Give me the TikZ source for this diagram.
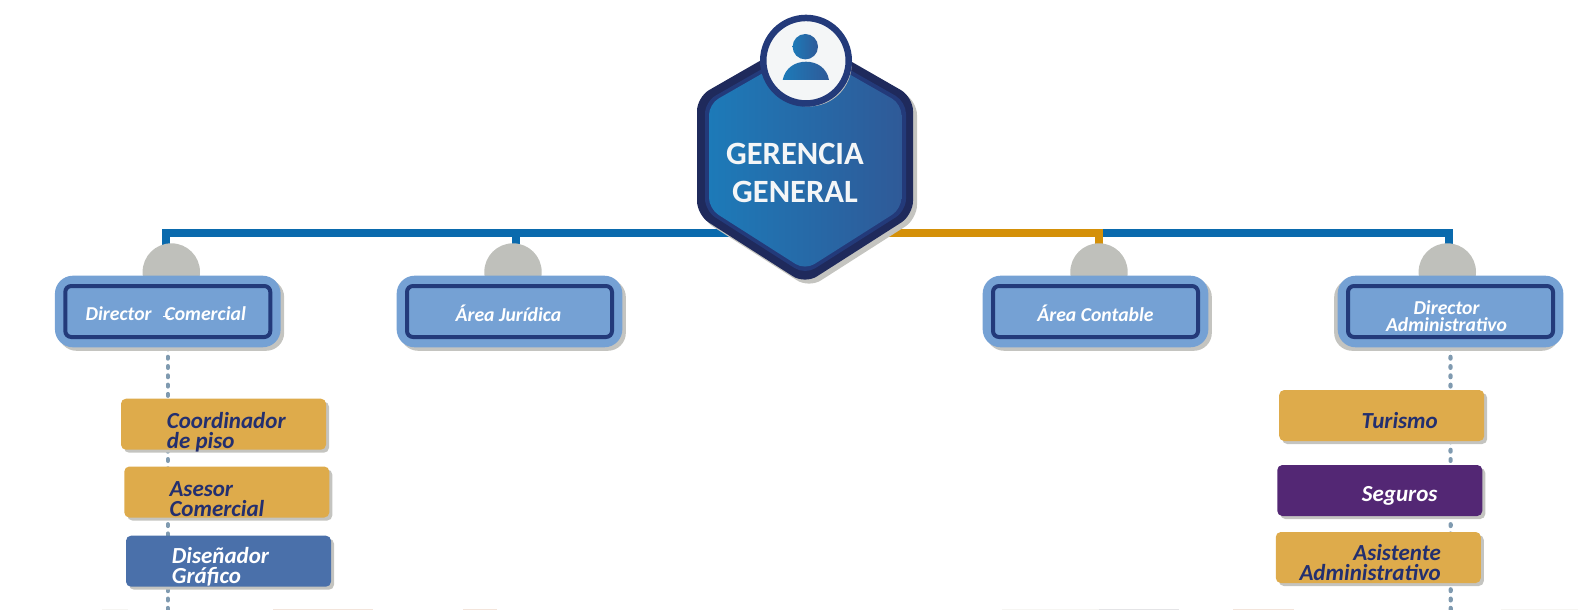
\documentclass[tikz,border=0pt]{standalone}
\usepackage{fontspec}
\setmainfont{Carlito}
\usetikzlibrary{shadows,backgrounds}
\definecolor{busblue}{HTML}{0A6AAD}
\definecolor{busorange}{HTML}{D49008}
\definecolor{domegray}{HTML}{BFC0BB}
\definecolor{shadowgray}{HTML}{C4C4C0}
\definecolor{areablue}{HTML}{75A1D4}
\definecolor{navy}{HTML}{233A7A}
\definecolor{darknavy}{HTML}{1F2A5C}
\definecolor{textnavy}{HTML}{232F6F}
\definecolor{gold}{HTML}{DEAB4B}
\definecolor{steelblue}{HTML}{4A70AA}
\definecolor{purple}{HTML}{532774}
\definecolor{dotgray}{HTML}{7F9AB0}
\definecolor{iconwhite}{HTML}{F4F6F7}
\definecolor{hexleft}{HTML}{1D7AB8}
\definecolor{hexright}{HTML}{2F5A98}
\definecolor{stripgray}{HTML}{E4E4E6}
\definecolor{striptan}{HTML}{F3E4DA}
\definecolor{strippale}{HTML}{F6F5F2}
\tikzset{
  busline/.style={line width=8pt, line join=miter},
  dotline/.style={dotgray, line width=4.2pt, line cap=round, dash pattern=on 1.8pt off 7.5pt},
  dome/.style={circle, fill=domegray, minimum size=57.4pt, inner sep=0pt},
  areabox/.style={rounded corners=18pt, fill=areablue, minimum width=225.7pt, minimum height=71.6pt},
  areashadow/.style={drop shadow={shadow xshift=#1, shadow yshift=-3.5pt, opacity=1, fill=shadowgray}},
  areashadow/.default=3.5pt,
  areaframe/.style={rounded corners=6pt, draw=navy, line width=4pt, minimum width=205pt, minimum height=51pt},
  arealabel/.style={align=center, inner sep=0pt, text=white,
    font=\fontsize{19.7}{17.5}\selectfont\bfseries\itshape},
  childbox/.style={rounded corners=5pt, minimum width=205pt, minimum height=51pt,
    drop shadow={shadow xshift=3pt, shadow yshift=-3pt, opacity=1, fill=shadowgray}},
  childtext/.style={anchor=west, align=left, inner sep=0pt, text=textnavy,
    font=\fontsize{23}{20}\selectfont\bfseries\itshape},
  shadow hex/.style={drop shadow={shadow xshift=4pt, shadow yshift=-4pt, opacity=1, fill=shadowgray}}
}
\begin{document}
\begin{tikzpicture}[x=1pt, y=-1pt]
\useasboundingbox (0,0) rectangle (1580,610);

% free ends of the connectors
\coordinate (hubleft) at (760,233);
\coordinate (hubright) at (850,233);
\coordinate (stubcomercial) at (166,250);
\coordinate (stubjuridica) at (516,250);
\coordinate (stubcontable) at (1099,250);
\coordinate (stubadmin) at (1449,250);
\coordinate (endcomercial) at (167.8,610);
\coordinate (endadmin) at (1450.7,610);

% bus above the areas
\draw[busline, busblue] (hubleft) -| (stubcomercial);
\draw[busline, busblue] (stubjuridica |- hubleft) -- (stubjuridica);
\draw[busline, busblue] (stubcontable |- hubleft) ++(3.7,0) -| (stubadmin);
\draw[busline, busorange] (hubright) -| (stubcontable);

% domes and area boxes
\node[dome] (domecomercial) at (171.3,272) {};
\node[dome] (domejuridica) at (513,272) {};
\node[dome] (domecontable) at (1099,272) {};
\node[dome] (domeadmin) at (1447.3,272) {};

\node[areabox, areashadow] (comercial) at (167.8,311.5) {};
\node[areabox, areashadow] (juridica) at (509.5,311.5) {};
\node[areabox, areashadow] (contable) at (1095.5,311.5) {};
\node[areabox, areashadow=-3.5pt] (admin) at (1450.5,311.5) {};

\node[areaframe] (comercialframe) at (comercial) {};
\node[areaframe] (juridicaframe) at (juridica) {};
\node[areaframe] (contableframe) at (contable) {};
\node[areaframe] (adminframe) at (admin) {};

\node[arealabel] (comerciallabel) at ([xshift=-2pt, yshift=-2pt]comercial.center) {Director\hspace{13pt}Comercial};
\node[arealabel] (juridicalabel) at ([xshift=-1pt, yshift=-2pt]juridica.center) {Área Jurídica};
\node[arealabel] (contablelabel) at ([yshift=-2pt]contable.center) {Área Contable};
\node[arealabel] (adminlabel) at ([xshift=-4pt, yshift=-4.5pt]admin.center) {Director\\Administrativo};
% stray mark across the C
\draw[white, line width=1pt] ([xshift=-4.5pt, yshift=-5.2pt]comercial.center) -- ++(7,0);

% head of the company
\draw[shadow hex, fill=darknavy, draw=none, rounded corners=14pt]
  (805,35) -- (913,97) -- (913,215) -- (805,284) -- (697,215) -- (697,97) -- cycle;
\fill[navy, rounded corners=12pt]
  (805,44.3) -- (906,101.7) -- (906,210.8) -- (805,274.7) -- (705,210.8) -- (705,101.7) -- cycle;
\shade[left color=hexleft, right color=hexright, rounded corners=11pt]
  (805,49) -- (901.5,104) -- (901.5,208.8) -- (805,270) -- (709,208.8) -- (709,104) -- cycle;

\node[circle, fill=iconwhite, draw=navy, line width=6.5pt, minimum size=85.5pt, inner sep=0pt,
  drop shadow={shadow xshift=3pt, shadow yshift=-3pt, opacity=1, fill=shadowgray}] (badge) at (806,60.7) {};
\shade[left color=hexleft, right color=hexright] (805.3,46.7) circle (12.7);
\shade[left color=hexleft, right color=hexright]
  (782.7,80) .. controls (785,68) and (795,61.7) .. (806,61.7)
  .. controls (817,61.7) and (827,68) .. (829,80) -- cycle;

\node[align=center, text=iconwhite, font=\fontsize{32.5}{38.5}\selectfont\bfseries, inner sep=0pt] (gerencia) at (795,173) {GERENCIA\\GENERAL};

% staff under each director
\node[childbox, fill=gold] (coordinador) at (223.5,424.2) {};
\node[childbox, fill=gold] (asesor) at (226.8,492) {};
\node[childbox, fill=steelblue] (disenador) at (228.5,561.2) {};
\node[childbox, fill=gold] (turismo) at (1381.7,415.5) {};
\node[childbox, fill=purple] (seguros) at (1379.8,490.5) {};
\node[childbox, fill=gold] (asistente) at (1378.3,557.5) {};

\node[childtext] (coordinadortxt) at (166.7,432) {Coordinador\\de piso};
\node[childtext] (asesortxt) at (169.3,499) {Asesor\\Comercial};
\node[childtext, text=white] (disenadortxt) at (171.7,567) {Diseñador\\Gráfico};
\node[childtext] (turismotxt) at (1361.5,420.5) {Turismo};
\node[childtext, text=white] (segurostxt) at (1361.7,496) {Seguros};
\node[childtext, anchor=east, align=right] (asistentetxt) at (1441,563) {Asistente\\Administrativo};

\begin{scope}[on background layer]
  \draw[dotline] (comercial.south) -- (endcomercial);
  \draw[dotline] (admin.south) -- (endadmin);
\end{scope}

% pale strips along the bottom edge
\foreach \xa/\xb/\stripcol in {102/128/strippale, 273/373/striptan, 463/497/striptan,
    1002/1099/strippale, 1099/1179/stripgray, 1233/1294/striptan, 1501/1578/strippale}
  \fill[\stripcol] (\xa,608.5) rectangle (\xb,610);
\end{tikzpicture}
\end{document}
